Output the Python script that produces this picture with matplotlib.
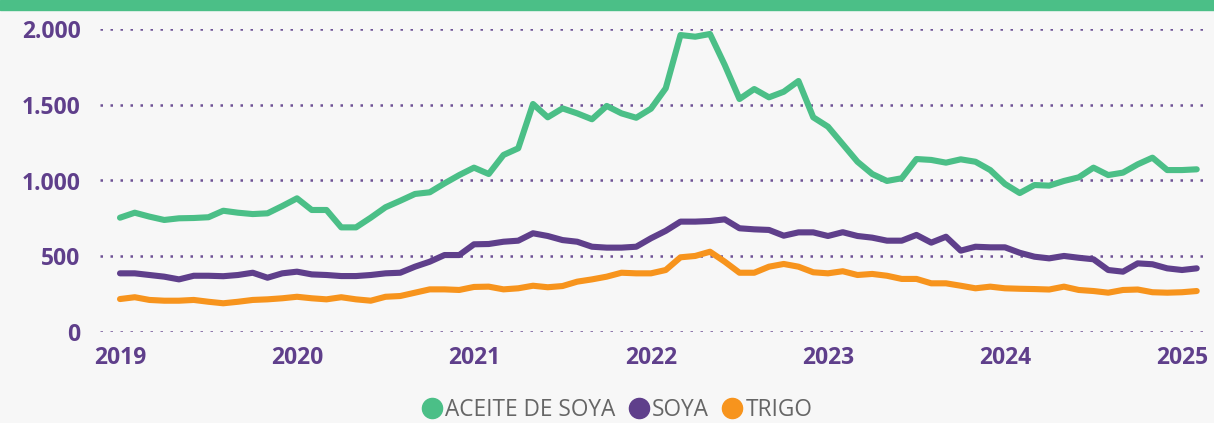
import matplotlib
matplotlib.use("Agg")
import matplotlib.pyplot as plt
from matplotlib.lines import Line2D
from matplotlib.patches import Rectangle

# Monthly series, Jan 2019 .. Feb 2025
aceite_de_soya = [754, 787, 761, 739, 750, 752, 757, 800, 787, 778, 783, 831, 882,
                  805, 805, 690, 690, 754, 823, 866, 911, 922, 981, 1036, 1085,
                  1043, 1169, 1213, 1506, 1418, 1477, 1444, 1405, 1493, 1444, 1415, 1475, 1610,
                  1962, 1951, 1969, 1764, 1539, 1605, 1550, 1587, 1658, 1418, 1356, 1240,
                  1124, 1043, 997, 1015, 1142, 1136, 1118, 1140, 1124, 1069, 977, 917,
                  970, 966, 997, 1021, 1085, 1036, 1052, 1107, 1151, 1069, 1069, 1074]
soya = [386, 386, 375, 364, 346, 370, 370, 367, 375, 390, 357, 386, 397,
        379, 375, 368, 368, 375, 386, 390, 430, 463, 507, 507, 578,
        580, 595, 602, 651, 633, 606, 595, 562, 556, 556, 562, 618, 667,
        728, 728, 732, 743, 684, 677, 673, 635, 657, 657, 633, 658,
        633, 622, 602, 602, 640, 589, 628, 536, 562, 558, 558, 522,
        496, 485, 501, 489, 479, 408, 397, 452, 446, 419, 408, 419]
trigo = [216, 228, 210, 205, 205, 210, 198, 188, 198, 210, 214, 221, 231,
         221, 214, 228, 214, 205, 231, 236, 258, 280, 280, 276, 296,
         298, 280, 287, 304, 294, 302, 331, 346, 364, 390, 386, 386, 408,
         492, 501, 529, 463, 390, 390, 430, 448, 430, 393, 386, 400,
         375, 382, 370, 349, 349, 320, 320, 304, 287, 298, 287, 284,
         282, 279, 298, 276, 269, 258, 276, 279, 261, 258, 261, 269]
series_names = ["ACEITE DE SOYA", "SOYA", "TRIGO"]
year_labels = ["2019", "2020", "2021", "2022", "2023", "2024", "2025"]
y_ticks = [0, 500, 1000, 1500, 2000]
y_tick_labels = ["0", "500", "1.000", "1.500", "2.000"]

GREEN = "#4bbf87"
PURPLE = "#5f3f8b"
ORANGE = "#f7941d"
BG = "#f7f7f7"

W, H = 1214, 423
fig = plt.figure(figsize=(W / 100, H / 100), dpi=100, facecolor=BG)
ax = fig.add_axes([100 / W, 1 - 331.7 / H, 1110 / W, (331.7 - 29.3) / H])
ax.set_facecolor(BG)

# top band
fig.patches.append(Rectangle((0, 1 - 10.5 / H), 1, 10.5 / H, transform=fig.transFigure,
                             color=GREEN, zorder=0))

x = list(range(len(aceite_de_soya)))
colors = [GREEN, PURPLE, ORANGE]
for data, c in zip([aceite_de_soya, soya, trigo], colors):
    ax.plot(x, data, color=c, lw=4.4, solid_capstyle="round", solid_joinstyle="round",
            clip_on=False, zorder=3)

ax.set_xlim(-1.356, 73.9)
ax.set_ylim(0, 2000)
for s in ax.spines.values():
    s.set_visible(False)

ax.set_yticks(y_ticks)
ax.set_yticklabels(y_tick_labels)
ax.set_xticks(list(range(0, 12 * len(year_labels), 12)))
ax.set_xticklabels(year_labels)
ax.tick_params(length=0, labelcolor=PURPLE, labelsize=16.5)
ax.tick_params(axis="y", pad=14)
ax.tick_params(axis="x", pad=10)
for lab in ax.get_xticklabels() + ax.get_yticklabels():
    lab.set_fontfamily("Open Sans")
    lab.set_fontweight("bold")

ax.grid(axis="y", color=PURPLE, lw=1.8, linestyle=(0, (1, 3)), alpha=0.9)
ax.grid(axis="x", visible=False)
ax.set_axisbelow(True)

handles = [Line2D([], [], marker="o", ls="none", color=c, markersize=14.5) for c in colors]
leg = fig.legend(handles, series_names, loc="center", bbox_to_anchor=(617 / W, 1 - 410 / H),
                 ncol=3, frameon=False, handlelength=0.9, handletextpad=0.12,
                 columnspacing=0.6, borderpad=0,
                 prop={"family": "Open Sans", "size": 16.3})
for t in leg.get_texts():
    t.set_color("#666666")

fig.savefig("out.png", dpi=100, facecolor=BG)
